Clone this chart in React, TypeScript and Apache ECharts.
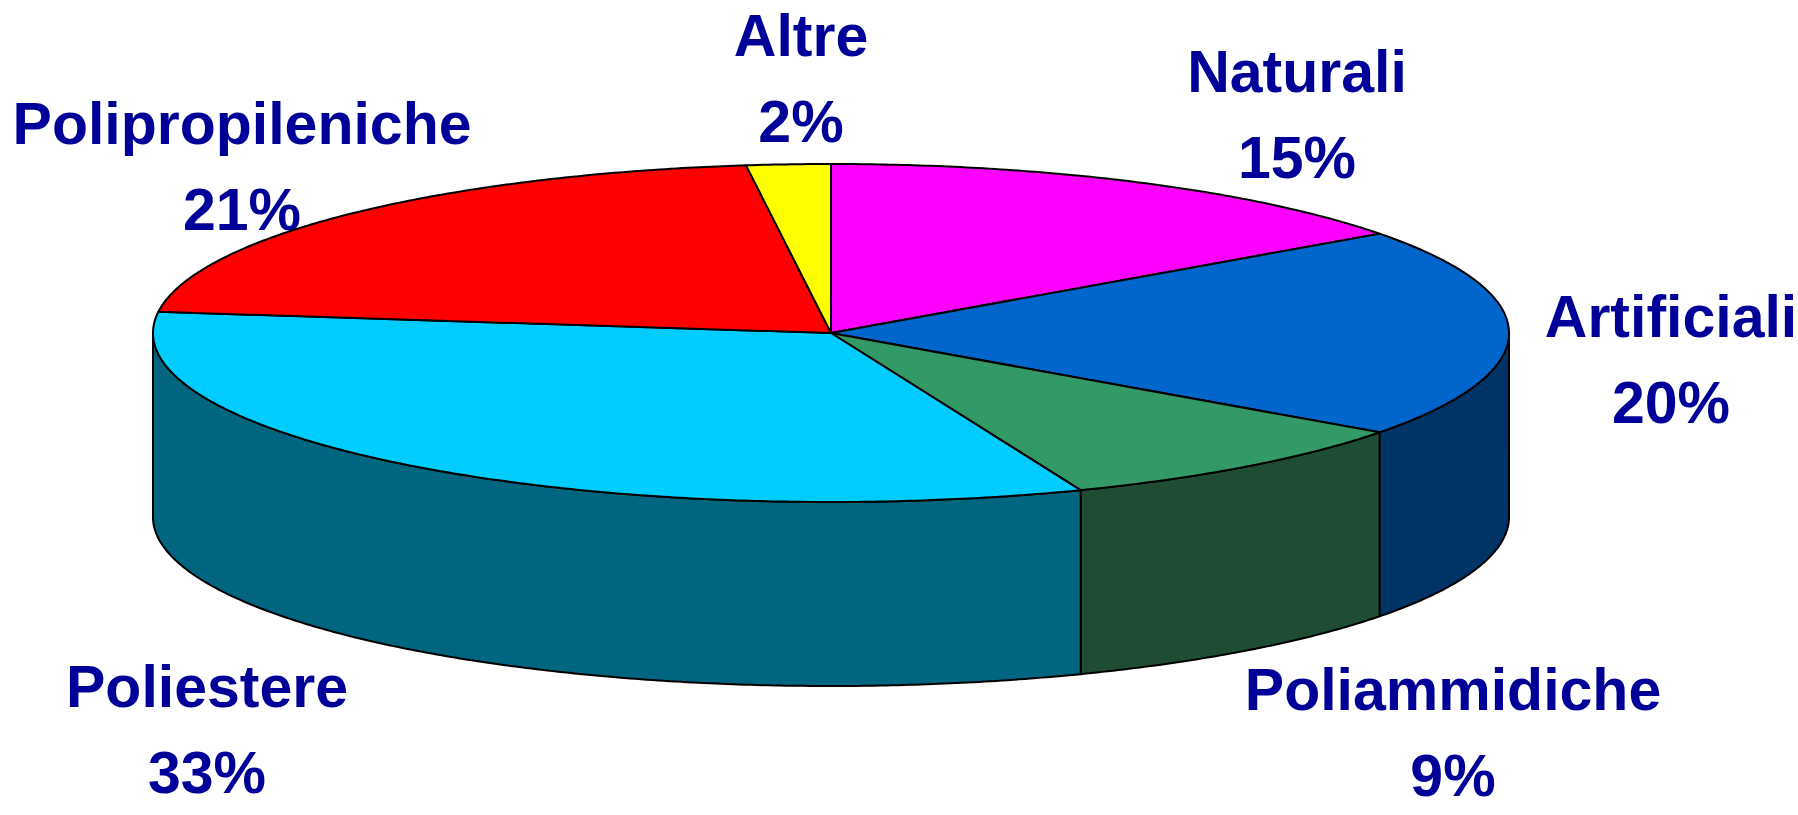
import React, { useEffect, useRef } from "react";
import * as echarts from "echarts";

// ---- data ----
const categories = ["Naturali", "Artificiali", "Poliammidiche", "Poliestere", "Polipropileniche", "Altre"];
const values = [15, 20, 9, 33, 21, 2];
const topColors = ["#FF00FF", "#0066CC", "#339966", "#00CCFF", "#FF0000", "#FFFF00"];
const sideColors = ["#800080", "#003366", "#1E4D33", "#006680", "#800000", "#808000"];

// ---- layout (not data) ----
const CX = 831;
const CY = 333;
const RX = 678;
const RY = 169;
const DEPTH = 184;
const labelPos: [number, number][] = [
  [1297, 72],
  [1671, 317],
  [1453, 690],
  [207, 687],
  [242, 124],
  [801, 36],
];
const LINE_GAP = 86;

function pt(deg: number, dy = 0): number[] {
  const r = (deg * Math.PI) / 180;
  return [CX + RX * Math.sin(r), CY - RY * Math.cos(r) + dy];
}

function arc(a0: number, a1: number, dy = 0): number[][] {
  const pts: number[][] = [];
  const n = Math.max(2, Math.ceil(Math.abs(a1 - a0) / 0.5));
  for (let i = 0; i <= n; i++) pts.push(pt(a0 + ((a1 - a0) * i) / n, dy));
  return pts;
}

export default function App() {
  const ref = useRef<HTMLDivElement>(null);
  useEffect(() => {
    if (!ref.current) return;
    const chart = echarts.init(ref.current, null, { renderer: "svg" });
    const total = values.reduce((a, b) => a + b, 0);
    const starts: number[] = [];
    let acc = 0;
    values.forEach((v) => {
      starts.push((acc / total) * 360);
      acc += v;
    });

    const renderItem = (params: any, api: any) => {
      const i = params.dataIndex;
      const v = api.value(0);
      const s = starts[i];
      const e = s + (v / total) * 360;
      const children: any[] = [];
      const ss = Math.max(s, 90);
      const se = Math.min(e, 270);
      if (se > ss) {
        const top = arc(ss, se);
        const bot = arc(ss, se, DEPTH).reverse();
        children.push({
          type: "polygon",
          shape: { points: top.concat(bot) },
          style: { fill: sideColors[i], stroke: "#000", lineWidth: 2, lineJoin: "round" },
        });
      }
      children.push({
        type: "polygon",
        shape: { points: [[CX, CY]].concat(arc(s, e)) },
        style: { fill: topColors[i], stroke: "#000", lineWidth: 2, lineJoin: "round" },
      });
      return { type: "group", children };
    };

    const labelFont = {
      fontFamily: "'Liberation Sans', Arial, sans-serif",
      fontWeight: "bold",
      fontSize: 59,
      fill: "#000099",
      align: "center",
      verticalAlign: "middle",
    };
    const graphics: any[] = [];
    categories.forEach((name, i) => {
      const pct = Math.round((values[i] / total) * 100) + "%";
      const [x, y] = labelPos[i];
      graphics.push({ type: "text", x, y, style: { ...labelFont, text: name } });
      graphics.push({ type: "text", x, y: y + LINE_GAP, style: { ...labelFont, text: pct } });
    });

    chart.setOption({
      animation: false,
      backgroundColor: "#ffffff",
      series: [
        {
          type: "custom",
          coordinateSystem: "none",
          renderItem,
          data: values.map((v, i) => ({ name: categories[i], value: [v] })),
          silent: true,
        },
      ],
      graphic: graphics,
    });
    return () => chart.dispose();
  }, []);
  return (
    <div
      ref={ref}
      style={{ position: "fixed", left: 0, top: 0, width: 1798, height: 815 }}
    />
  );
}
